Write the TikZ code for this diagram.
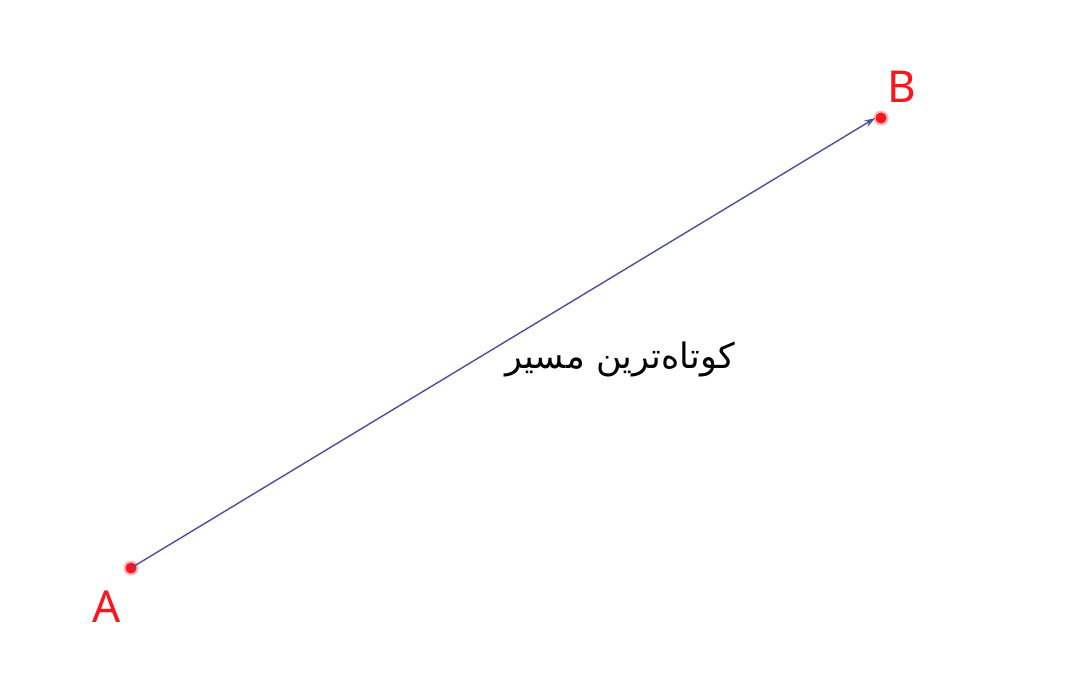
\documentclass[tikz,border=0pt]{standalone}
\usepackage{fontspec}
\setsansfont{Noto Sans}
\newfontfamily\arabicfont[Script=Arabic]{DejaVu Sans}
\TeXXeTstate=1
\usetikzlibrary{arrows.meta}
\definecolor{linecol}{RGB}{78,78,158}
\definecolor{ptred}{RGB}{255,20,30}
\tikzset{
  ptdot/.style={circle,fill=ptred,inner sep=0pt,minimum size=11pt},
  pthalo/.style={circle,fill=ptred,opacity=0.3,inner sep=0pt,minimum size=15pt},
  ptlabel/.style={text=ptred,font=\sffamily\fontsize{44}{48}\selectfont,inner sep=0pt},
  pathline/.style={draw=linecol,line width=1.4pt,-{Stealth[length=11pt,width=7pt]}},
}
\begin{document}
\begin{tikzpicture}[x=1pt,y=-1pt]
\useasboundingbox (0,0) rectangle (1080,698);
\node[pthalo] (ha) at (131,568) {};
\node[pthalo] (hb) at (881,118) {};
\node[ptdot] (A) at (131,568) {};
\node[ptdot] (B) at (881,118) {};
\draw[pathline] (A.center) -- (B.west);
\node[ptlabel] (la) at (107,607) {A};
\node[ptlabel] (lb) at (902,87) {B};
\node[font=\arabicfont\fontsize{35}{40}\selectfont,inner sep=0pt] (t) at (620,359) {\beginR کوتاه‌ترین مسیر\endR};
\end{tikzpicture}
\end{document}
